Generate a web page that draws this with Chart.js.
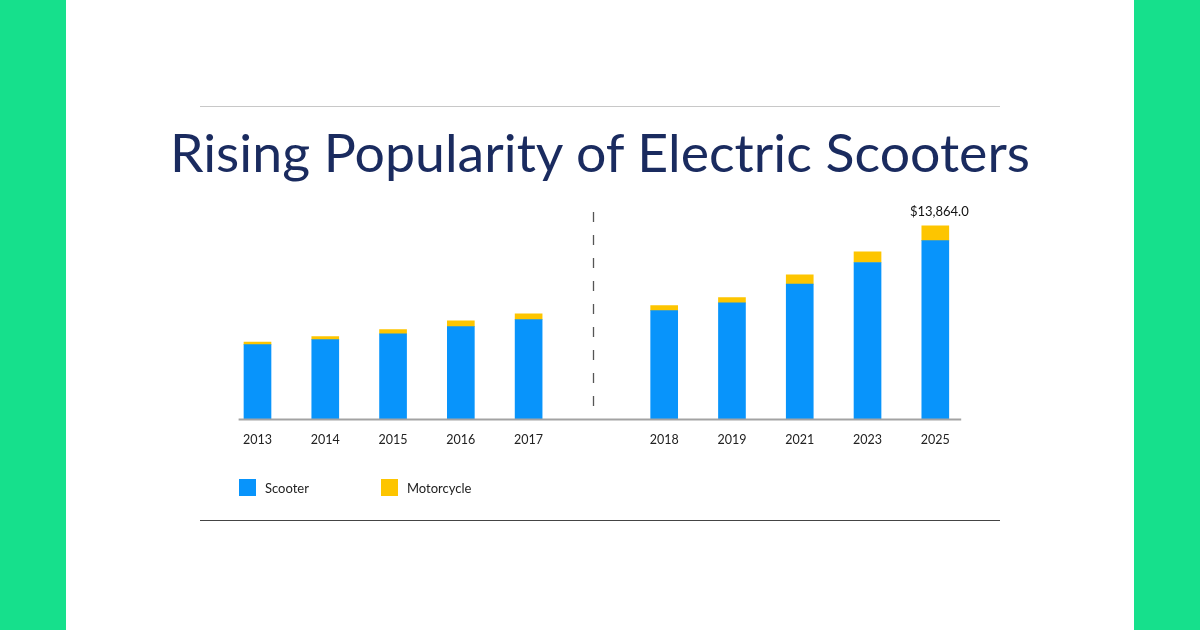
<!DOCTYPE html>
<html>
<head>
<meta charset="utf-8">
<script src="https://cdn.jsdelivr.net/npm/chart.js@4.4.1/dist/chart.umd.min.js"></script>
<style>
  html, body { margin: 0; padding: 0; }
  body { width: 1200px; height: 630px; position: relative; background: #fff; overflow: hidden; font-family: Lato, "Open Sans", sans-serif; }
  .side { position: absolute; top: 0; width: 66px; height: 630px; background: #16e08c; }
  .rule { position: absolute; left: 200px; width: 800px; }
  #title { position: absolute; left: 0; top: 125px; white-space: nowrap; font-size: 53px; color: #1a2b5f; line-height: 1; transform-origin: 0 0; }
  #legend { position: absolute; left: 239px; top: 479px; }
  .item { position: absolute; top: 0; height: 17px; display: flex; align-items: center; font-size: 13px; color: #222; white-space: nowrap; }
  .swatch { width: 17px; height: 17px; margin-right: 9px; }
  canvas { position: absolute; left: 0; top: 0; }
</style>
</head>
<body>
<div class="side" style="left:0"></div>
<div class="side" style="left:1134px"></div>
<div class="rule" style="top:106px;border-top:1px solid #c8c8c8"></div>
<div class="rule" style="top:520px;border-top:1px solid #444"></div>
<div id="title">Rising Popularity of Electric Scooters</div>
<canvas id="chart" width="1200" height="630"></canvas>
<div id="legend"></div>
<script>
// categories; the empty one is the gap where the dashed divider sits
const years = ["2013", "2014", "2015", "2016", "2017", "", "2018", "2019", "2021", "2023", "2025"];
const scooter = [5360, 5720, 6130, 6650, 7150, null, 7800, 8350, 9690, 11240, 12810];
const motorcycle = [190, 215, 305, 410, 410, null, 360, 380, 665, 765, 1054];
const totalLabel = "$13,864.0";
const seriesNames = ["Scooter", "Motorcycle"];
const seriesColors = ["#0894fb", "#fdc500"];

// stretch the title to the width it has in the picture
const title = document.getElementById("title");
const tw = title.getBoundingClientRect().width;
const sx = 860 / tw;
title.style.transform = "scaleX(" + sx + ")";
title.style.left = "170px";

// baseline, dashed divider and the total above the last bar
const extras = {
  id: "extras",
  afterDatasetsDraw(chart) {
    const { ctx, chartArea, scales } = chart;
    const x = scales.x;
    const y = scales.y;
    ctx.save();
    // divider in the empty slot
    const dx = Math.round(x.getPixelForValue(5)) - 2.5;
    ctx.strokeStyle = "#555";
    ctx.lineWidth = 1.3;
    ctx.setLineDash([10, 13]);
    ctx.beginPath();
    ctx.moveTo(dx, chartArea.top + 2);
    ctx.lineTo(dx, chartArea.bottom);
    ctx.stroke();
    ctx.setLineDash([]);
    // axis line
    ctx.strokeStyle = "#a3a3a3";
    ctx.lineWidth = 2;
    ctx.beginPath();
    ctx.moveTo(chartArea.left + 15, chartArea.bottom);
    ctx.lineTo(chartArea.right - 8, chartArea.bottom);
    ctx.stroke();
    // total on last bar
    const last = years.length - 1;
    const top = y.getPixelForValue(scooter[last] + motorcycle[last]);
    ctx.fillStyle = "#111";
    ctx.font = "13px Lato, sans-serif";
    ctx.textAlign = "center";
    ctx.textBaseline = "middle";
    ctx.fillText(totalLabel, x.getPixelForValue(last) + 4, top - 14);
    ctx.restore();
  },
};

const chart = new Chart(document.getElementById("chart"), {
  type: "bar",
  data: {
    labels: years,
    datasets: [
      { label: seriesNames[0], data: scooter, backgroundColor: seriesColors[0] },
      { label: seriesNames[1], data: motorcycle, backgroundColor: seriesColors[1] },
    ],
  },
  options: {
    responsive: false,
    animation: false,
    layout: { padding: { left: 223.6, right: 230.8, top: 210, bottom: 0 } },
    datasets: { bar: { barThickness: 27 } },
    plugins: { legend: { display: false }, tooltip: { enabled: false } },
    scales: {
      x: {
        stacked: true,
        grid: { display: false, drawTicks: false },
        border: { display: false },
        ticks: { color: "#222", font: { family: "Lato", size: 12.5 }, padding: 13, maxRotation: 0 },
        afterFit(scale) { scale.height = 210.5; },
      },
      y: { stacked: true, display: false, min: 0, max: 15000 },
    },
  },
  plugins: [extras],
});

// legend built from the datasets
const legend = document.getElementById("legend");
const offsets = [0, 142];
chart.data.datasets.forEach((ds, i) => {
  const item = document.createElement("div");
  item.className = "item";
  item.style.left = offsets[i] + "px";
  item.innerHTML = '<span class="swatch" style="background:' + ds.backgroundColor + '"></span>' + ds.label;
  legend.appendChild(item);
});
</script>
</body>
</html>
